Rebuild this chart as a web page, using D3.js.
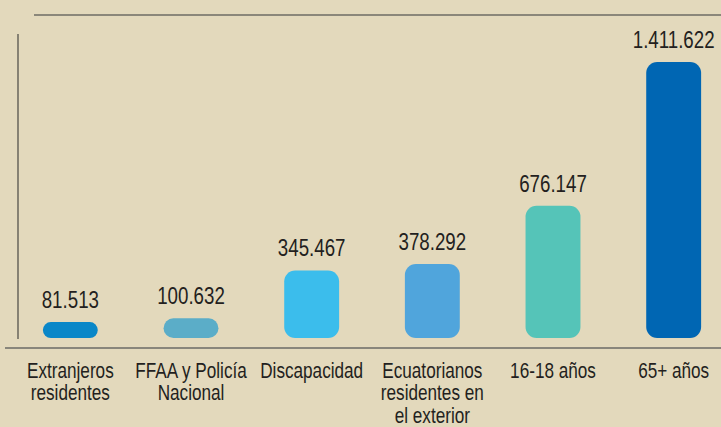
<!DOCTYPE html>
<html>
<head>
<meta charset="utf-8">
<script src="https://cdn.jsdelivr.net/npm/d3@7"></script>
<style>
  html, body { margin: 0; padding: 0; background: #e3d9bc; }
  svg { display: block; }
  text { font-family: "Liberation Sans", Arial, sans-serif; fill: #231f20; }
</style>
</head>
<body>
<div id="chart"></div>
<script>
// categories, values and bar colours
var categories = [
    ["Extranjeros", "residentes"],
    ["FFAA y Policía", "Nacional"],
    ["Discapacidad"],
    ["Ecuatorianos", "residentes en", "el exterior"],
    ["16-18 años"],
    ["65+ años"]
];
var values = [81513, 100632, 345467, 378292, 676147, 1411622];
var valueLabels = ["81.513", "100.632", "345.467", "378.292", "676.147", "1.411.622"];
var barColors = ["#0a87c8", "#5badc8", "#3bbdec", "#50a5dc", "#55c4b8", "#0066b3"];

var W = 721, H = 427;
var baseY = 338, topY = 62;
// the original uses a condensed face; squeeze a regular one horizontally
var squeeze = 0.78;

var svg = d3.select("#chart").append("svg")
    .attr("width", W)
    .attr("height", H);

var idx = d3.range(values.length);

var xScale = d3.scaleBand()
    .domain(idx)
    .range([10, 734])
    .paddingInner(0.545)
    .paddingOuter(0.2725);

var yScale = d3.scaleLinear()
    .domain([0, d3.max(values)])
    .range([baseY, topY]);

// frame lines
svg.append("line")
   .attr("x1", 34).attr("x2", W)
   .attr("y1", 15).attr("y2", 15)
   .attr("stroke", "#8b877a")
   .attr("stroke-width", 2);

svg.append("line")
   .attr("x1", 18).attr("x2", 18)
   .attr("y1", 34).attr("y2", 339)
   .attr("stroke", "#55524c")
   .attr("stroke-width", 1.3);

svg.append("line")
   .attr("x1", 5).attr("x2", W)
   .attr("y1", 348).attr("y2", 348)
   .attr("stroke", "#6b6a66")
   .attr("stroke-width", 1.5);

// bars
svg.append("g").selectAll("rect")
   .data(idx)
   .enter().append("rect")
   .attr("x", function(i) { return xScale(i); })
   .attr("y", function(i) { return yScale(values[i]); })
   .attr("width", xScale.bandwidth())
   .attr("height", function(i) { return baseY - yScale(values[i]); })
   .attr("rx", function(i) { return Math.min(11, (baseY - yScale(values[i])) / 2); })
   .attr("fill", function(i) { return barColors[i]; });

var cx = function(i) { return xScale(i) + xScale.bandwidth() / 2; };

// value labels
svg.append("g").selectAll("text")
   .data(idx)
   .enter().append("text")
   .attr("transform", function(i) {
       return "translate(" + cx(i) + "," + (yScale(values[i]) - 14) + ") scale(" + squeeze + ",1)";
   })
   .attr("text-anchor", "middle")
   .style("font-size", "24px")
   .text(function(i) { return valueLabels[i]; });

// category labels
var cat = svg.append("g").selectAll("text")
   .data(idx)
   .enter().append("text")
   .attr("text-anchor", "middle")
   .style("font-size", "22px")
   .attr("transform", function(i) {
       return "translate(" + cx(i) + ",378) scale(" + squeeze + ",1)";
   });

cat.selectAll("tspan")
   .data(function(i) { return categories[i]; })
   .enter().append("tspan")
   .attr("x", 0)
   .attr("y", function(d, j) { return j * 22.5; })
   .text(function(d) { return d; });
</script>
</body>
</html>
